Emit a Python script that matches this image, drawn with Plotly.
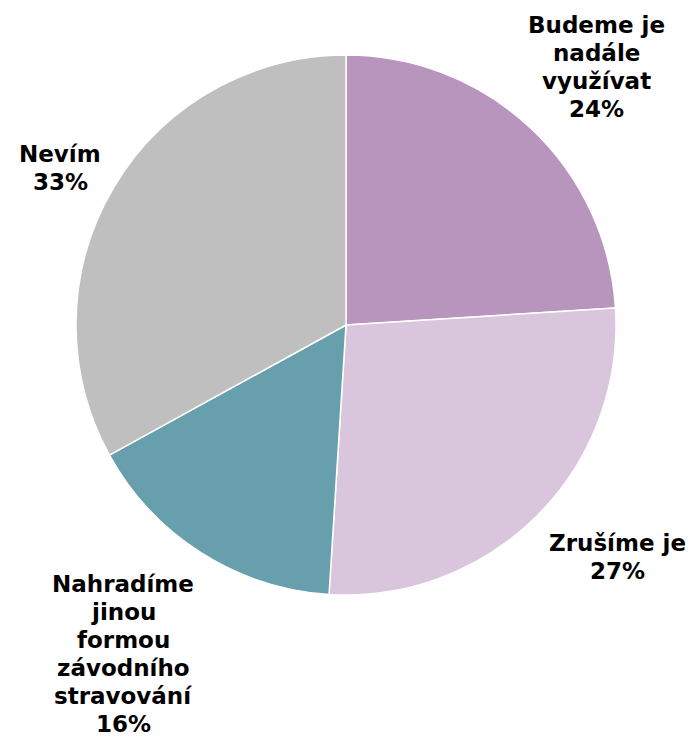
import plotly.graph_objects as go

labels = ["Budeme je<br>nadále<br>využívat", "Zrušíme je", "Nahradíme<br>jinou<br>formou<br>závodního<br>stravování", "Nevím"]
values = [24, 27, 16, 33]
colors = ["#B795BD", "#D9C6DD", "#689FAD", "#BFBFBF"]

# label block centres in pixels (x, y from top)
label_pos = [(596, 67), (617, 557), (123, 654), (60, 168)]
line_gap = 28

W, H = 690, 742

fig = go.Figure(go.Pie(
    labels=labels,
    values=values,
    sort=False,
    direction="clockwise",
    rotation=0,
    marker=dict(colors=colors, line=dict(color="white", width=1.5)),
    textinfo="none",
    hoverinfo="label+percent",
    domain=dict(x=[76 / W, 616 / W], y=[(H - 595) / H, (H - 55) / H]),
))

total = sum(values)
for lab, v, (px, py) in zip(labels, values, label_pos):
    lines = lab.split("<br>") + [f"{round(100 * v / total)}%"]
    top = py - (len(lines) - 1) * line_gap / 2
    for i, line in enumerate(lines):
        fig.add_annotation(
            x=px / W, y=1 - (top + i * line_gap) / H, xref="paper", yref="paper",
            text=f"<b>{line}</b>",
            showarrow=False, xanchor="center", yanchor="middle", align="center",
            font=dict(family="DejaVu Sans", size=23, color="black"),
        )

fig.update_layout(
    width=W, height=H,
    margin=dict(l=0, r=0, t=0, b=0),
    showlegend=False,
    paper_bgcolor="white",
)

fig.write_html("out.html", config={"displayModeBar": False},
               post_script="document.body.style.margin='0';")
